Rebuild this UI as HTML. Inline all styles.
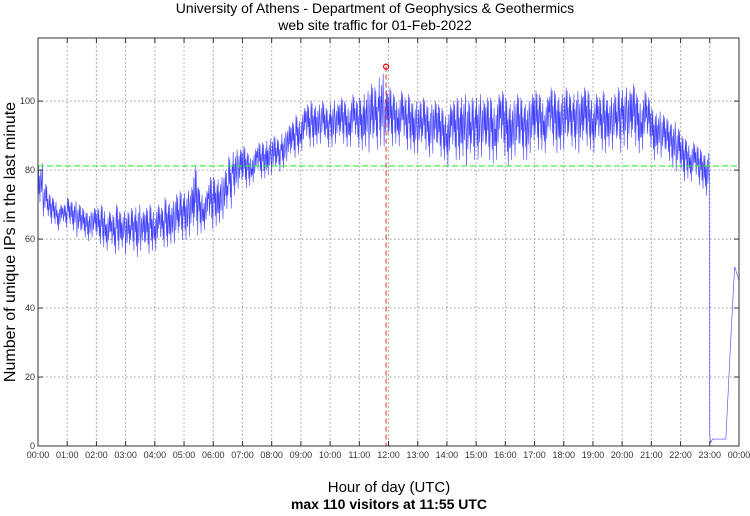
<!DOCTYPE html>
<html><head><meta charset="utf-8"><style>
body{margin:0;background:#fff;}
svg text{font-family:"Liberation Sans",sans-serif;}
</style></head><body>
<svg id="chart" width="750" height="511" xmlns="http://www.w3.org/2000/svg">
<rect width="750" height="511" fill="#fff"/>
<text x="375" y="13" font-size="14" text-anchor="middle">University of Athens - Department of Geophysics &amp; Geothermics</text>
<text x="375" y="30" font-size="14" text-anchor="middle">web site traffic for 01-Feb-2022</text>
<g id="grid"></g>
<g id="series"></g>
<rect x="38" y="38" width="701" height="408" fill="none" stroke="#333" stroke-width="1"/>
<g id="ticks"></g>
<text transform="translate(15,242) rotate(-90)" font-size="16" text-anchor="middle">Number of unique IPs in the last minute</text>
<text x="389" y="492" font-size="15" text-anchor="middle">Hour of day (UTC)</text>
<text x="389" y="509" font-size="14" font-weight="bold" text-anchor="middle">max 110 visitors at 11:55 UTC</text>
</svg>
<script>
const yTicks=[0,20,40,60,80,100];
const xTickLabels=["00:00","01:00","02:00","03:00","04:00","05:00","06:00","07:00","08:00","09:00","10:00","11:00","12:00","13:00","14:00","15:00","16:00","17:00","18:00","19:00","20:00","21:00","22:00","23:00","00:00"];
const lowValues=[70,66,64,64,62,63, 64,62,60,60,59,60, 58,57,56,55,56,57, 55,56,54,56,55,56, 56,57,57,58,58,59, 59,60,60,61,62,62, 63,64,65,68,72,74, 74,75,76,77,77,78, 78,79,80,82,83,84, 85,86,86,87,87,86, 86,87,87,86,86,86, 85,86,84,85,86,86, 86,87,86,85,85,84, 84,85,83,84,83,82, 80,82,82,83,80,82, 82,83,82,81,82,83, 80,82,83,82,82,84, 85,85,84,86,84,85, 85,86,85,84,86,85, 84,85,84,86,85,84, 86,85,86,84,85,86, 82,84,83,82,80,79, 76,77,76,75,74,72];
const highValues=[82,76,73,72,70,70, 72,71,70,69,68,69, 69,70,68,67,70,68, 68,69,70,68,69,70, 70,69,72,71,73,74, 74,75,81,75,74,78, 78,78,80,84,86,86, 87,85,86,88,88,89, 90,89,91,93,94,96, 98,99,100,99,100,98, 100,99,101,100,102,100, 101,103,105,104,108,103, 104,102,103,101,102,100, 100,101,99,100,99,98, 99,100,101,102,100,101, 102,100,101,101,102,103, 101,100,102,101,100,102, 103,102,101,104,103,102, 104,102,103,102,104,103, 102,101,103,101,102,104, 104,103,105,102,103,101, 98,97,96,95,94,92, 90,89,88,87,86,85];
const tailHours=[22.98,23.0,23.03,23.1,23.3,23.55,23.7,23.85,24.0];
const tailValues=[72,3,1,2,2,2,28,52,48];
const meanValue=81.2;
const maxHour=11.917;
const maxValue=110;
const NS="http://www.w3.org/2000/svg";
const X0=38,X1=739,Y0=446,YTOP=38,YMAX=118.3;
const xs=h=>X0+(X1-X0)*h/24;
const ys=v=>Y0-(Y0-YTOP)*v/YMAX;
function mk(tag,attrs,parent){const e=document.createElementNS(NS,tag);for(const k in attrs)e.setAttribute(k,attrs[k]);parent.appendChild(e);return e;}
const grid=document.getElementById('grid'),ticks=document.getElementById('ticks'),series=document.getElementById('series');
yTicks.forEach(v=>{
  if(v>0){const g=mk('line',{x1:X0,x2:X1,y1:ys(v),y2:ys(v),stroke:'#999','stroke-dasharray':'1.5,2.5'},grid);
  
  }
  mk('line',{x1:X0,x2:X0+5,y1:ys(v),y2:ys(v),stroke:'#333'},ticks);
  mk('line',{x1:X1,x2:X1-5,y1:ys(v),y2:ys(v),stroke:'#333'},ticks);
  const t=mk('text',{x:X0-3,y:ys(v)+3,'font-size':9,'text-anchor':'end',fill:'#333'},ticks);
  t.textContent=v;
  
  
});
xTickLabels.forEach((lab,i)=>{
  const x=xs(i);
  if(i>0&&i<24){const g=mk('line',{x1:x,x2:x,y1:YTOP,y2:Y0,stroke:'#999','stroke-dasharray':'1.5,2.5'},grid);
  
  }
  mk('line',{x1:x,x2:x,y1:Y0,y2:Y0-5,stroke:'#333'},ticks);
  mk('line',{x1:x,x2:x,y1:YTOP,y2:YTOP+5,stroke:'#333'},ticks);
  const t=mk('text',{x:x,y:458,'font-size':9,'text-anchor':'middle',fill:'#333'},ticks);
  t.textContent=lab;
  
  
});
// main series: zigzag between low and high within each 10-minute interval
const pattern=[0.5,0.95,0.25,0.7,0.05,0.6,0.85,0.3,0.55,1.0];
let pts=[];
for(let i=0;i<lowValues.length;i++){
  const lo=lowValues[i],hi=highValues[i];
  for(let k=0;k<pattern.length;k++){
    const h=(i+k/pattern.length)/6;
    pts.push(xs(h).toFixed(2)+','+ys(lo+(hi-lo)*pattern[(k+i*3)%pattern.length]).toFixed(2));
  }
}
tailHours.forEach((h,i)=>pts.push(xs(h).toFixed(2)+','+ys(tailValues[i]).toFixed(2)));
const line=mk('polyline',{points:pts.join(' '),fill:'none',stroke:'#2020ff','stroke-width':0.6,'stroke-opacity':0.85},series);


const mean=mk('line',{x1:X0,x2:X1,y1:ys(meanValue),y2:ys(meanValue),stroke:'#33ee33','stroke-width':1.2,'stroke-dasharray':'6,3'},series);


const vl=mk('line',{x1:xs(maxHour),x2:xs(maxHour),y1:ys(maxValue),y2:Y0,stroke:'#dd3333','stroke-width':1,'stroke-dasharray':'5,3'},series);


const mc=mk('circle',{cx:xs(maxHour),cy:ys(maxValue),r:2.5,fill:'none',stroke:'#ee0000','stroke-width':1.2},series);


</script>
</body></html>
